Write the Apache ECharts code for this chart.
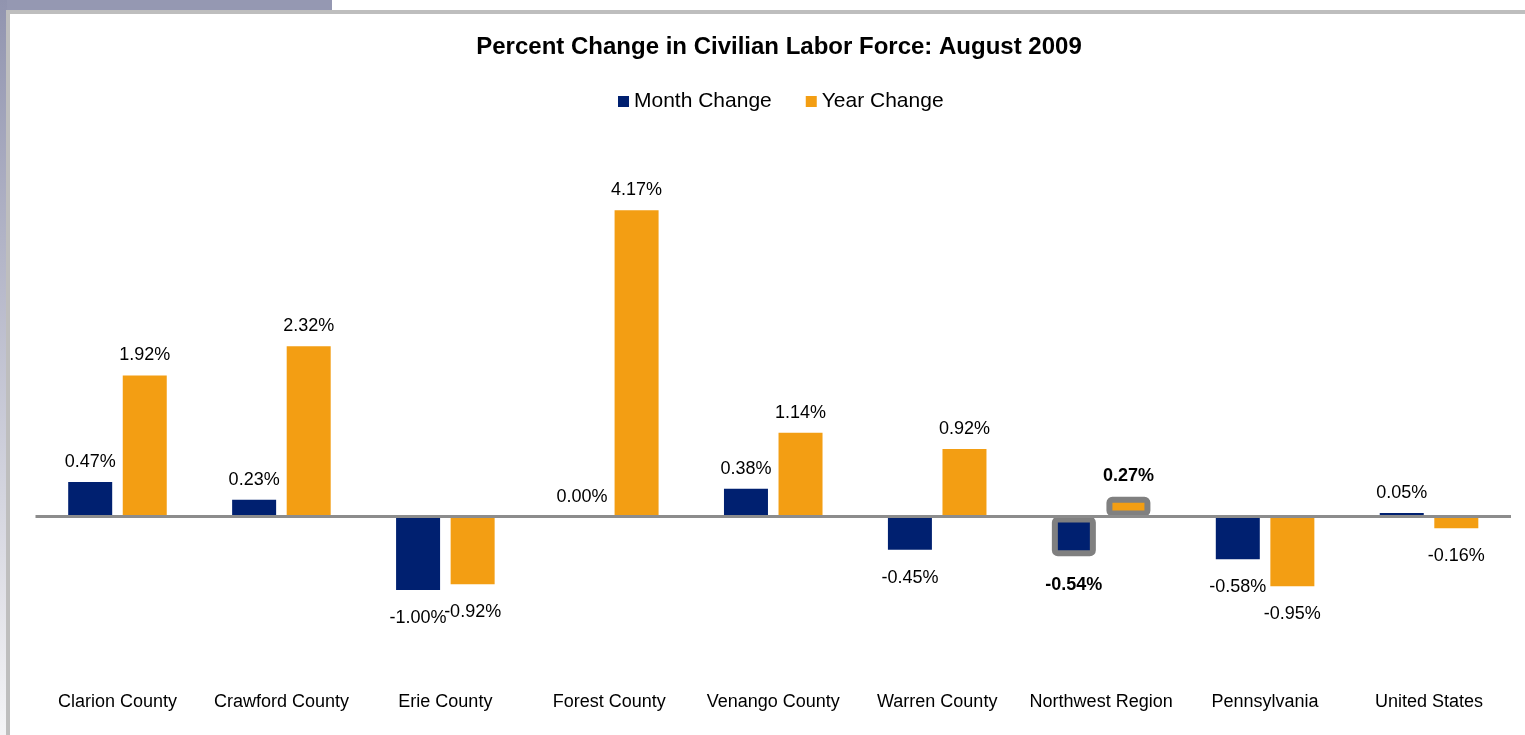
<!DOCTYPE html>
<html>
<head>
<meta charset="utf-8">
<script src="https://cdn.jsdelivr.net/npm/echarts@6/dist/echarts.min.js"></script>
<style>
  html, body { margin: 0; padding: 0; background: #ffffff; }
  #chart { width: 1525px; height: 735px; }
</style>
</head>
<body>
<div id="chart"></div>
<script>
const categories = ['Clarion County', 'Crawford County', 'Erie County', 'Forest County', 'Venango County', 'Warren County', 'Northwest Region', 'Pennsylvania', 'United States'];
const monthChange = [0.47, 0.23, -1.00, 0.00, 0.38, -0.45, -0.54, -0.58, 0.05];
const yearChange = [1.92, 2.32, -0.92, 4.17, 1.14, 0.92, 0.27, -0.95, -0.16];
const seriesNames = ['Month Change', 'Year Change'];
const highlighted = 'Northwest Region';
const titleText = 'Percent Change in Civilian Labor Force: August 2009';

const FONT = "'Liberation Sans', Arial, sans-serif";

function buildData(values) {
  return values.map(function (v, i) {
    const item = {
      value: v,
      label: { position: v < 0 ? 'bottom' : 'top', distance: v < 0 ? 19 : 11 }
    };
    if (categories[i] === highlighted) {
      item.itemStyle = { borderColor: '#808080', borderWidth: 6, borderRadius: 3 };
      item.label.fontWeight = 'bold';
      item.label.distance += 1;
    }
    return item;
  });
}

const labelCfg = {
  show: true,
  fontFamily: FONT,
  fontSize: 18,
  color: '#000',
  formatter: function (p) { return p.value.toFixed(2) + '%'; }
};

const chart = echarts.init(document.getElementById('chart'), null, { renderer: 'canvas' });
chart.setOption({
  animation: false,
  backgroundColor: '#ffffff',
  graphic: [
    { type: 'rect', left: 0, top: 0, shape: { width: 332, height: 10 }, style: { fill: '#9598B2' }, silent: true },
    { type: 'rect', left: 0, top: 0, shape: { width: 7, height: 735 },
      style: { fill: new echarts.graphic.LinearGradient(0, 0, 0, 1, [
        { offset: 0, color: '#9194AF' }, { offset: 1, color: '#F4F4F6' }]) }, silent: true },
    { type: 'rect', left: 6, top: 10, shape: { width: 1519, height: 4 }, style: { fill: '#BEBEBE' }, silent: true },
    { type: 'rect', left: 6, top: 10, shape: { width: 4, height: 725 }, style: { fill: '#BEBEBE' }, silent: true }
  ],
  title: {
    text: titleText,
    left: 774,
    textAlign: 'center',
    top: 30,
    textStyle: { fontFamily: FONT, fontSize: 24, fontWeight: 'bold', color: '#000' }
  },
  legend: {
    data: seriesNames,
    left: 613,
    top: 86,
    itemWidth: 11,
    itemHeight: 11,
    itemGap: 34,
    icon: 'rect',
    textStyle: { fontFamily: FONT, fontSize: 21, color: '#000' }
  },
  grid: { left: 35.5, right: 14, top: 186, bottom: 71.5, containLabel: false },
  xAxis: {
    type: 'category',
    data: categories,
    axisLine: { show: false, onZero: false },
    axisTick: { show: false },
    axisLabel: { interval: 0, margin: 30, fontFamily: FONT, fontSize: 18, color: '#000' }
  },
  yAxis: {
    type: 'value',
    min: -2,
    max: 4.5,
    show: false,
    splitLine: { show: false }
  },
  series: [
    {
      name: seriesNames[0],
      type: 'bar',
      barWidth: 44,
      barGap: '24%',
      itemStyle: { color: '#002070' },
      label: labelCfg,
      data: buildData(monthChange),
      markLine: {
        silent: true,
        symbol: ['none', 'none'],
        label: { show: false },
        lineStyle: { color: '#8C8C8C', width: 3, type: 'solid' },
        data: [{ yAxis: 0 }]
      }
    },
    {
      name: seriesNames[1],
      type: 'bar',
      barWidth: 44,
      barGap: '24%',
      itemStyle: { color: '#F39E13' },
      label: labelCfg,
      data: buildData(yearChange)
    }
  ]
});
</script>
</body>
</html>
